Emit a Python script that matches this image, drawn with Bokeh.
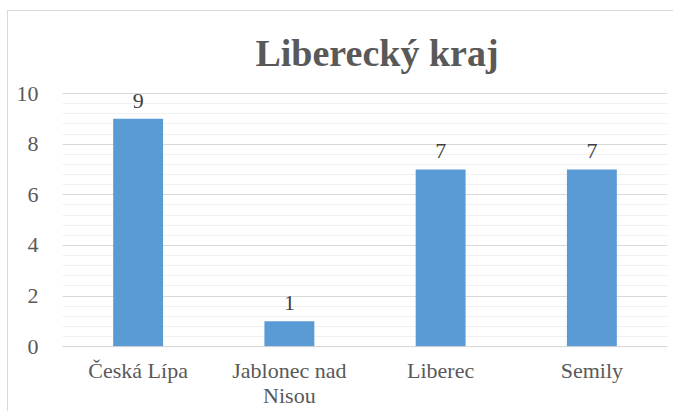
from bokeh.plotting import figure
from bokeh.models import ColumnDataSource, FixedTicker, LabelSet, Label, Span
from bokeh.embed import file_html
from bokeh.resources import INLINE

districts = ["Česká Lípa", "Jablonec nad Nisou", "Liberec", "Semily"]
label_line1 = ["Česká Lípa", "Jablonec nad", "Liberec", "Semily"]
label_line2 = ["", "Nisou", "", ""]
counts = [9, 1, 7, 7]
y_ticks = [0, 2, 4, 6, 8, 10]
title_text = "Liberecký kraj"

FONT = "Liberation Serif"
TXT = "#595959"

source = ColumnDataSource(dict(x=districts, y=counts, lab=[str(c) for c in counts],
                               l1=label_line1, l2=label_line2, base=[0] * len(counts)))

# frame spans the whole figure height; value axis 0..10 sits inside it
p = figure(x_range=districts, y_range=(-2.6, 13.24), width=666, height=401,
           output_backend="svg", toolbar_location=None,
           min_border_left=54, min_border_right=7, min_border_top=0, min_border_bottom=0)
p.styles = {"margin-left": "7px", "margin-top": "10px",
            "border-left": "1px solid #D9D9D9", "border-top": "1px solid #D9D9D9"}
p.x_range.range_padding = 0
p.outline_line_color = None
p.background_fill_color = "white"
p.border_fill_color = "white"
p.xaxis.visible = False

p.vbar(x="x", top="y", bottom=0, width=0.33, source=source, color="#5B9BD5", line_color=None)

p.add_layout(Span(location=0, dimension="width", line_color="#D9D9D9", line_width=1))

labels = LabelSet(x="x", y="y", text="lab", source=source, text_align="center",
                  text_baseline="bottom", y_offset=11, text_font=FONT,
                  text_font_size="22px", text_color="#404040")
p.add_layout(labels)

cats1 = LabelSet(x="x", y="base", text="l1", source=source, text_align="center",
                 text_baseline="bottom", y_offset=-36, text_font=FONT,
                 text_font_size="22px", text_color=TXT)
cats2 = LabelSet(x="x", y="base", text="l2", source=source, text_align="center",
                 text_baseline="bottom", y_offset=-61, text_font=FONT,
                 text_font_size="22px", text_color=TXT)
p.add_layout(cats1)
p.add_layout(cats2)

title = Label(x=2, y=10, x_offset=12, y_offset=20, text=title_text, text_align="center",
              text_baseline="bottom", text_font=FONT, text_font_size="38px",
              text_font_style="bold", text_color=TXT)
p.add_layout(title)

p.yaxis.ticker = FixedTicker(ticks=y_ticks, minor_ticks=[i * 0.4 for i in range(26)])
p.ygrid.ticker = p.yaxis.ticker
p.ygrid.grid_line_color = "#D9D9D9"
p.ygrid.minor_grid_line_color = "#F0F0F0"
p.xgrid.grid_line_color = None

p.yaxis.axis_line_color = None
p.yaxis.major_tick_line_color = None
p.yaxis.minor_tick_line_color = None
p.yaxis.major_label_standoff = 18
p.yaxis.major_label_text_font = FONT
p.yaxis.major_label_text_font_size = "22px"
p.yaxis.major_label_text_color = TXT

open("out.html", "w").write(file_html(p, INLINE))
